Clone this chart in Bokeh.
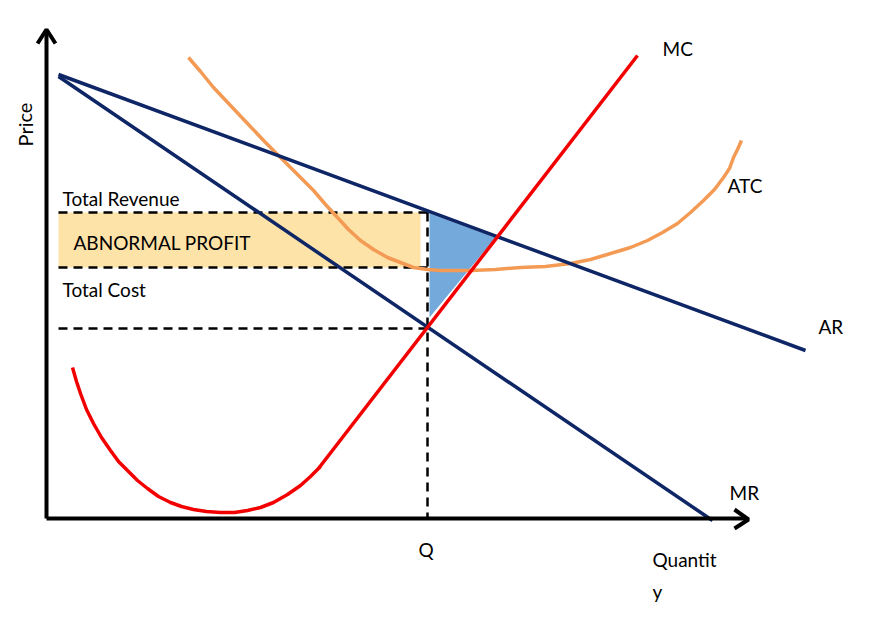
from bokeh.plotting import figure
from bokeh.models import Range1d
from bokeh.core.properties import value
from bokeh.embed import file_html
from bokeh.resources import INLINE

# Diagram coordinates (pixel-like units, y grows downward)
axis_x = [46, 46]
axis_y = [518, 30]
xaxis_x = [46, 746]
xaxis_y = [518, 518]
yarrow_x = [37, 46, 55]
yarrow_y = [43, 29, 43]
xarrow_x = [734, 748, 734]
xarrow_y = [509, 519, 528]

ar_x = [58, 805]
ar_y = [74, 350]
mr_x = [58, 712]
mr_y = [76, 520]

mc_line_x = [318, 637]
mc_line_y = [468, 55]
mc_curve_x = [72, 76, 80, 86, 93, 101, 110, 118, 127, 137, 147, 158, 170, 181, 193, 206, 220, 234, 247, 260, 273, 287, 300, 310, 320]
mc_curve_y = [367, 381, 393, 409, 423, 437, 450, 461, 470, 480, 488, 496, 502, 506, 509, 511, 512, 512, 510, 507, 502, 494, 485, 476, 466]

atc_x = [188, 200, 213, 230, 247, 265, 283, 298, 313, 325, 337, 348, 360, 373, 387, 400, 413, 427, 440, 455, 470, 495, 520, 545, 570, 590, 610, 630, 647, 662, 677, 690, 703, 714, 723, 729, 733, 737, 741]
atc_y = [57, 71, 87, 105, 123, 142, 160, 175, 190, 204, 217, 229, 240, 249, 257, 262, 267, 269, 270, 270, 270, 269, 267, 266, 263, 259, 253, 247, 240, 232, 223, 212, 200, 189, 177, 168, 157, 149, 140]

tr_level = 212
tc_level = 267
mcq_level = 328
q_x = 427
dash_start = 58

profit_left, profit_right = 58, 420
tri_x = [429, 495, 429]
tri_y = [213, 237, 317]

labels = ["MC", "ATC", "AR", "MR", "Q", "Quantit", "y", "Total Revenue", "ABNORMAL PROFIT", "Total Cost"]
label_x = [662, 727, 818, 729, 418, 652, 652, 62, 73, 62]
label_y = [48, 185, 326, 492, 549, 559, 591, 198, 242, 289]

p = figure(width=870, height=618, output_backend="svg", toolbar_location=None,
           x_range=Range1d(0, 870), y_range=Range1d(618, 0), min_border=0)
p.axis.visible = False
p.grid.visible = False
p.outline_line_color = None
p.background_fill_color = "white"

# shaded areas
p.quad(left=[profit_left], right=[profit_right], top=[tr_level], bottom=[tc_level],
       fill_color="#FDE3A7", line_color=None)
p.patch(tri_x, tri_y, fill_color="#74AADB", line_color=None)

# dashed guides
dash = "9 6"
for lvl in [tr_level, tc_level, mcq_level]:
    p.line([dash_start, q_x], [lvl, lvl], line_color="black", line_width=2.5, line_dash=dash)
p.line([q_x, q_x], [tr_level, 518], line_color="black", line_width=2.5, line_dash=dash)

# curves
p.line(atc_x, atc_y, line_color="#F39A55", line_width=3.5, line_join="round")
p.line(ar_x, ar_y, line_color="#0E2666", line_width=3.5)
p.line(mr_x, mr_y, line_color="#0E2666", line_width=3.5)
p.line(mc_line_x, mc_line_y, line_color="#F20000", line_width=3.5)
p.line(mc_curve_x, mc_curve_y, line_color="#F20000", line_width=3.5, line_join="round")

# axes
p.line(axis_x, axis_y, line_color="black", line_width=4)
p.line(xaxis_x, xaxis_y, line_color="black", line_width=4)
p.line(yarrow_x, yarrow_y, line_color="black", line_width=4)
p.line(xarrow_x, xarrow_y, line_color="black", line_width=4)

p.text(x=label_x, y=label_y, text=labels, text_font=value("Lato"), text_font_size="19px",
       text_color="black", text_baseline="middle", text_align="left")
p.text(x=[24], y=[124], text=["Price"], angle=1.5708, text_font=value("Lato"),
       text_font_size="20px", text_color="black", text_baseline="middle", text_align="center")

open("out.html", "w").write(file_html(p, INLINE))
